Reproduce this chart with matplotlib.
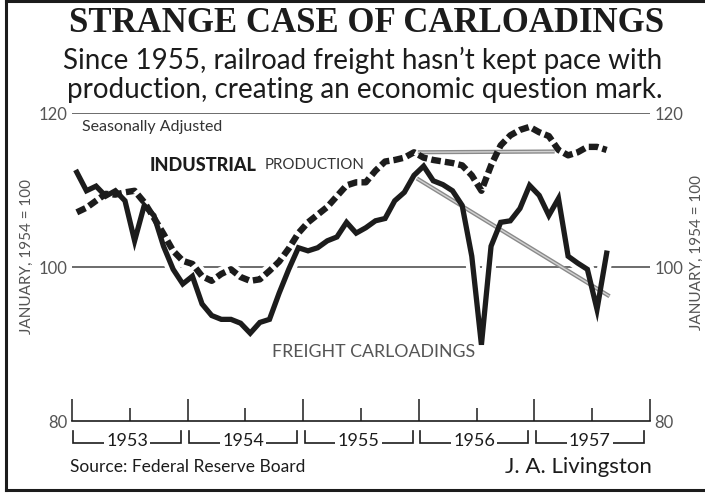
import numpy as np
import matplotlib
matplotlib.use("Agg")
import matplotlib.pyplot as plt
from matplotlib.lines import Line2D
from matplotlib import transforms

# Monthly index values, Jan 1953 .. Aug 1957 (January 1954 = 100)
months = np.arange(56)
industrial_production = [
    107.1, 107.7, 108.6, 109.5, 109.4, 109.7, 109.9, 108.4, 106.4, 104.3, 102.1, 100.8,
    100.4, 98.8, 98.2, 99.1, 99.7, 98.7, 98.2, 98.4, 99.5, 100.7, 102.4, 104.4,
    105.8, 106.8, 107.8, 109.2, 110.6, 111.0, 111.0, 112.5, 113.7, 113.9, 114.2, 114.9,
    114.2, 113.9, 113.7, 113.5, 113.2, 111.9, 109.9, 113.2, 115.8, 117.1, 117.8, 118.2,
    117.5, 117.0, 115.2, 114.5, 114.9, 115.6, 115.6, 115.2,
]
freight_carloadings = [
    112.3, 109.9, 110.5, 109.2, 109.9, 108.6, 103.4, 108.0, 106.7, 102.7, 99.7, 97.8,
    98.8, 95.2, 93.7, 93.2, 93.2, 92.7, 91.4, 92.8, 93.2, 96.6, 99.7, 102.5,
    102.1, 102.5, 103.4, 103.9, 105.8, 104.4, 105.1, 106.0, 106.3, 108.6, 109.7, 111.9,
    113.1, 111.2, 110.7, 109.9, 108.0, 101.4, 89.9, 102.7, 105.8, 106.0, 107.6, 110.6,
    109.3, 106.7, 108.9, 101.4, 100.5, 99.7, 94.5, 101.8,
]
years = ["1953", "1954", "1955", "1956", "1957"]
y_ticks = [80, 100, 120]

# trend lines drawn over the chart (month index, value)
level_trend_x = [35.4, 49.6]
level_trend_y = [114.9, 115.0]
drop_trend_x = [35.3, 55.3]
drop_trend_y = [111.5, 96.2]

W, H = 705, 503
ink = "#1c1c1c"
grey = "#555555"
sans = "Lato"

fig = plt.figure(figsize=(W / 100, H / 100), dpi=100)
fig.patch.set_facecolor("white")


def fx(px):
    return px / W


def fy(py):
    return 1 - py / H


ax = fig.add_axes([fx(72), fy(421), (650 - 72) / W, (421 - 113) / H])
ax.set_facecolor("none")
ax.set_xlim(-0.5, 59.5)
ax.set_ylim(80, 120)

for s in ["top", "left", "right"]:
    ax.spines[s].set_visible(False)
ax.spines["bottom"].set_linewidth(1.2)
ax.spines["bottom"].set_color(ink)

# year ticks (major) and mid-year ticks (minor), pointing up
ax.set_xticks([-0.5 + 12 * k for k in range(6)])
ax.set_xticks([5.5 + 12 * k for k in range(5)], minor=True)
ax.tick_params(axis="x", which="major", direction="in", length=16, width=1.1,
               color=ink, labelbottom=False)
ax.tick_params(axis="x", which="minor", direction="in", length=9.5, width=1.1,
               color=ink)

ax.set_yticks(y_ticks)
ax.set_yticklabels([str(v) for v in y_ticks])
ax.tick_params(axis="y", length=0, pad=3, labelleft=True, labelright=True,
               labelsize=12, labelcolor=grey)
for lab in ax.get_yticklabels():
    lab.set_family(sans)

# grid lines at 100 and 120
ax.axhline(120, color="#444444", lw=1.1, zorder=1)
ax.axhline(100, color="#444444", lw=1.1, zorder=1)

# white halo so the grid breaks around the curves
ax.plot(months, freight_carloadings, color="white", lw=10, zorder=2,
        solid_joinstyle="round")
ax.plot(months, industrial_production, color="white", lw=10, zorder=2,
        solid_joinstyle="round")

# trend lines
for tx, ty in [(level_trend_x, level_trend_y), (drop_trend_x, drop_trend_y)]:
    ax.plot(tx, ty, color="#8a8a8a", lw=3.0, zorder=3, solid_capstyle="butt")
    ax.plot(tx, ty, color="#d2d2d2", lw=1.0, zorder=3, solid_capstyle="butt")

# data
ax.plot(months, freight_carloadings, color=ink, lw=3.8, zorder=4,
        solid_joinstyle="miter")
ax.plot(months, industrial_production, color=ink, lw=4.6, zorder=5,
        linestyle=(0, (1.5, 0.65)), dash_capstyle="butt")

# year brackets under the axis
blend = transforms.blended_transform_factory(ax.transData, ax.transAxes)
y_line = (421 - 443) / 308
y_top = (421 - 431) / 308
y_txt = (421 - 441) / 308
for k, yr in enumerate(years):
    x0 = -0.5 + 12 * k + 0.15
    x1 = -0.5 + 12 * (k + 1) - 0.65
    ax.plot([x0, x0, x1, x1], [y_top, y_line, y_line, y_top], color=ink, lw=1.2,
            transform=blend, clip_on=False, solid_joinstyle="miter")
    ax.text((x0 + x1) / 2, y_txt, yr, transform=blend, ha="center", va="center",
            fontsize=13, family=sans, color=ink,
            bbox=dict(facecolor="white", edgecolor="none", pad=1.5))

# titles
fig.text(fx(367), fy(23), "STRANGE CASE OF CARLOADINGS", ha="center", va="center",
         family="Liberation Serif", fontweight="bold", fontsize=25, color=ink)
fig.text(fx(363), fy(60), "Since 1955, railroad freight hasn\u2019t kept pace with",
         ha="center", va="center", family=sans, fontsize=20, color=ink)
fig.text(fx(365), fy(90), "production, creating an economic question mark.",
         ha="center", va="center", family=sans, fontsize=20, color=ink)

# in-chart labels
fig.text(fx(82), fy(127), "Seasonally Adjusted", ha="left", va="center",
         family=sans, fontsize=11.5, color="#333333")
fig.text(fx(150), fy(165), "INDUSTRIAL", ha="left", va="center",
         family=sans, fontsize=13, fontweight="black", color=ink)
fig.text(fx(265), fy(165), "PRODUCTION", ha="left", va="center",
         family=sans, fontsize=10.8, color="#333333")
fig.text(fx(272), fy(352), "FREIGHT CARLOADINGS", ha="left", va="center",
         family=sans, fontsize=12.8, color=grey)

# axis captions
fig.text(fx(27), fy(256), "JANUARY, 1954 = 100", rotation=90, ha="center",
         va="center", family=sans, fontsize=11, color=grey)
fig.text(fx(697), fy(252), "JANUARY, 1954 = 100", rotation=90, ha="center",
         va="center", family=sans, fontsize=11, color=grey)

# footer
fig.text(fx(70), fy(467), "Source: Federal Reserve Board", ha="left", va="center",
         family=sans, fontsize=12.5, color=ink)
fig.text(fx(652), fy(467), "J. A. Livingston", ha="right", va="center",
         family=sans, fontsize=16, color=ink)

# outer frame
frame = dict(color=ink, lw=2.2, transform=fig.transFigure)
fig.add_artist(Line2D([fx(6), fx(6)], [fy(1), fy(490)], **frame))
fig.add_artist(Line2D([fx(6), 1], [fy(490), fy(490)], **frame))
fig.add_artist(Line2D([fx(6), 1], [fy(1), fy(1)], **frame))

fig.savefig("out.png", dpi=100, facecolor="white")
